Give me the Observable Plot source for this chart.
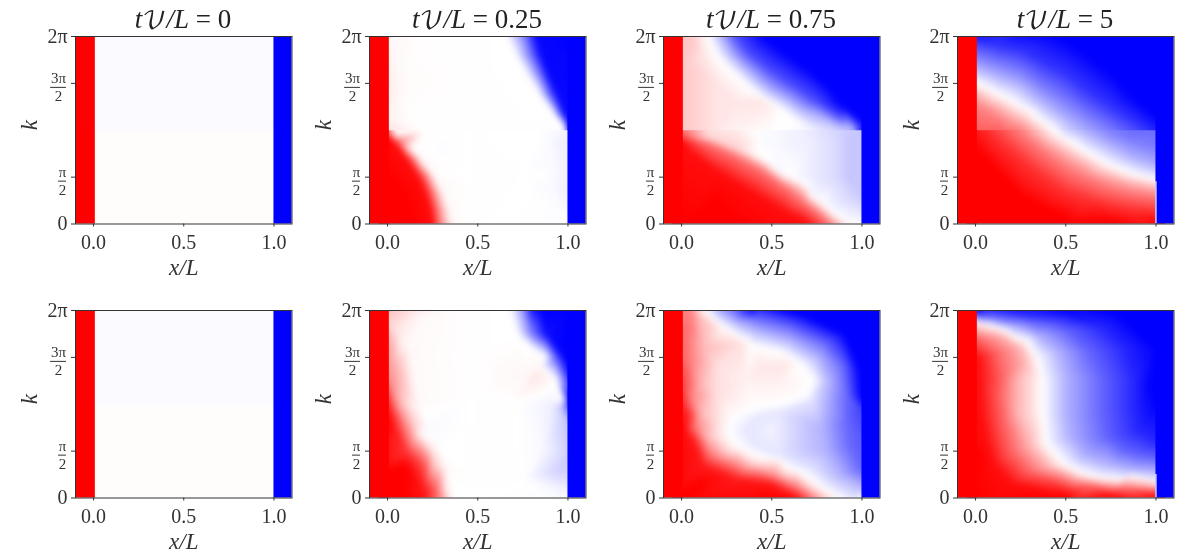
<!DOCTYPE html>
<html><head><meta charset="utf-8">
<script src="https://cdn.jsdelivr.net/npm/d3@7"></script>
<script src="https://cdn.jsdelivr.net/npm/@observablehq/plot@0.6"></script>
<style>
html,body{margin:0;padding:0;background:#fff;}
#fig{position:relative;width:1196px;height:557px;overflow:hidden;font-family:"Liberation Serif",serif;color:#222;filter:blur(.35px);}
#fig svg{position:absolute;overflow:visible;background:transparent;}
.ttl{position:absolute;width:216px;text-align:center;font-size:27px;line-height:30px;white-space:nowrap;}
</style></head><body><div id="fig"></div>
<script>
// Each field is a list of sampled iso-levels: [value, [x/L, k/pi, x/L, k/pi, ...]]
const t0Top = [
  [-0.015,[.01,2, .5,2, 1,2, .01,1.002, .5,1.002, 1,1.002]],
  [0.01,[.01,.998, .5,.998, 1,.998, .01,0, .5,0, 1,0]]
];
const t0Bottom = t0Top;
const t025Top = [
  [1,[.01,.9, .01,.5, .1,.3, .01,0, .15,0]],
  [.95,[.01,.94, .05,.84, .11,.68, .17,.5, .21,.33, .24,.15, .25,0]],
  [.5,[.01,.985, .07,.88, .14,.72, .21,.53, .25,.35, .28,.15, .29,0]],
  [.02,[.04,.96, .13,.79, .2,.65, .26,.5, .31,.32, .34,.15, .36,0]],
  [0,[.2,.99, .6,.99, .85,.99]],[-.02,[.95,.99]],
  [.12,[.01,1.01]],[.08,[.01,1.5]],[.03,[.01,2, .05,1.1]],[.04,[.05,1.5]],[.015,[.1,1.5]],[.005,[.13,1.1, .2,2, .4,1.5]],
  [.003,[.3,1.01, .7,1.01, .9,1.01]],
  [-.008,[.3,.8]],[.003,[.5,1, .5,.3, .5,1.6, .5,0, .5,2, .7,.5]],
  [0,[.66,2, .71,1.8, .77,1.6, .85,1.35, .93,1.15, .985,1.02]],
  [-.5,[.76,2, .79,1.8, .84,1.6, .89,1.38, .95,1.17, .995,1.01]],
  [-.97,[.82,2, .85,1.8, .89,1.6, .94,1.38, .98,1.17, 1,1.03]],
  [-1,[1,2, 1,1.005]],
  [-.06,[1,.995, 1,.5, .97,.85, .97,.35]],[-.02,[.92,.7, .92,.4]],[-.01,[1,0]],[0,[.85,.5]]
];
const t075Top = [
  [1,[.01,.85, .01,0, .3,0, .2,.25]],
  [.95,[.02,.8, .2,.55, .4,.32, .55,.15, .68,.03, .7,0]],
  [.55,[.01,.98, .15,.86, .3,.72, .45,.56, .58,.38, .68,.22, .76,.1, .82,0]],
  [.18,[.15,.91, .3,.8]],[.12,[.15,.99]],[.08,[.3,.99]],[-.02,[.5,.99, .45,.95]],[-.07,[.7,.99]],[-.16,[.85,.99]],
  [.22,[.01,1.01, .01,1.3, .01,1.7, .01,2, .06,1.95]],
  [.05,[.3,1.01]],[.01,[.5,1.01]],[-.08,[.75,1.01]],[-.2,[.88,1.01]],
  [0,[.15,2, .2,1.8, .27,1.65, .4,1.42, .55,1.23, .62,1.12]],
  [.03,[.4,.74]],[0,[.48,.66, .6,.5, .7,.4, .78,.22, .85,.1, .93,0]],
  [.1,[.12,1.8, .2,1.5, .3,1.3, .2,1.05, .45,1.3]],
  [-.3,[.22,2, .28,1.8, .36,1.65, .5,1.42, .66,1.23, .8,1.12, .95,1.03]],
  [-.7,[.3,2, .37,1.82, .48,1.65, .62,1.47, .75,1.3, .87,1.15, .98,1.03]],
  [-1,[.45,2, .55,1.85, .7,1.65, .82,1.45, .9,1.25, 1,1.01, 1,2]],
  [-.22,[1,.98, 1,.6, 1,.3, .93,.9, .93,.5]],
  [-.14,[.85,.9, .85,.5, .93,.25]],
  [-.07,[.72,.9, .72,.5, .85,.2]],
  [-.03,[.55,.82, .55,.55, .72,.3]],
  [-.02,[1,0]]
];
const t5Top = [
  [0,[.01,1.5, .12,1.39, .23,1.28, .37,1.09, .5,.91, .62,.76, .74,.63, .87,.53, 1,.47]],
  [-.3,[.01,1.66, .13,1.57, .25,1.48, .37,1.3, .5,1.12, .62,.97, .75,.83, .87,.71, 1,.62]],
  [-.5,[.01,1.78, .13,1.7, .25,1.62, .37,1.46, .5,1.3, .62,1.14, .75,.98, .87,.88, 1,.8]],
  [-.58,[1,.985, .87,.985]],[-.88,[1,1.015]],[-.68,[.87,1.01]],[-.52,[.75,1.01]],
  [-.18,[.5,1.01, .5,.99]],[.17,[.37,1.01, .37,.99]],[-.02,[.44,1.01, .44,.99]],[-.35,[.62,1.01, .62,.99]],
  [-.8,[.01,1.95, .13,1.9, .25,1.85, .37,1.73, .5,1.6, .62,1.42, .75,1.25, .87,1.1]],
  [-.92,[.01,2, .2,2]],
  [-1,[.45,2, .5,1.95, .62,1.8, .75,1.6, .87,1.35, 1,1.15, 1,2]],
  [.3,[.01,1.38, .13,1.24, .25,1.1, .37,.92, .5,.75, .62,.62, .75,.5, .87,.43, 1,.38]],
  [.5,[.01,1.25, .13,1.12, .25,1.01, .37,.8, .5,.62, .62,.5, .75,.4, .87,.34, 1,.3]],
  [.62,[.01,1.01, .13,1.01]],[.9,[.01,.985]],[.72,[.13,.985]],[.5,[.25,.99]],
  [.8,[.13,.9, .25,.7, .37,.52, .5,.35, .62,.27, .75,.2, .87,.16, 1,.13]],
  [1,[.01,.8, .13,.55, .25,.3, .37,.18, .5,.08, .75,.03, 1,.02, .01,0, .5,0, 1,0]]
];
const t025Bottom = [
  [1,[.01,.8, .01,.3, .01,0, .1,.35, .1,0]],
  [.9,[.02,.9]],[.85,[.01,1]],[.45,[.01,1.3]],[.35,[.02,1.6]],[.25,[.01,2]],
  [.35,[.06,1]],[.1,[.12,1, .05,1.8]],[.08,[.07,1.6]],[.02,[.12,1.6, .17,1, .2,1.95]],
  [.5,[.1,.75]],[.2,[.15,.75]],[-.02,[.23,.75]],[-.06,[.19,.71]],
  [.8,[.1,.5]],[.4,[.2,.5]],[.1,[.25,.5]],[0,[.3,.5]],
  [.7,[.2,.35]],[.2,[.26,.35]],[.02,[.32,.35]],
  [.9,[.2,.1]],[.6,[.27,.1]],[.1,[.32,.1]],[0,[.36,.1, .36,0]],[.95,[.2,0]],[.5,[.29,0]],
  [.003,[.5,.2, .5,.8, .5,1.5, .5,2, .5,1.1, .7,1, .7,.5, .75,.2]],
  [0,[.68,2, .72,1.75, .8,1.6, .88,1.5, .94,1.25, .98,1.03]],
  [-.4,[.75,2]],[-.9,[.8,2]],[-1,[.85,2, 1,2, 1,1.08, .98,1.5]],
  [-.5,[.8,1.75]],[-.95,[.88,1.75]],[-.6,[.93,1.5]],[-.4,[.97,1.25]],
  [.1,[.82,1.32]],[.03,[.78,1.32, .85,1.4, .72,1.3]],
  [-.9,[1,1.02]],[-.25,[.97,1, 1,.8]],[-.05,[.9,1]],
  [-.15,[.95,.7]],[-.2,[.97,.3, 1,.5]],[-.06,[.9,.5]],[-.02,[.85,.5]],[-.05,[.95,.1]],[-.02,[1,0]]
];
const t075Bottom = [
  [1,[.01,.7, .1,.15, .01,0, .5,0, .6,0]],
  [.9,[.03,.9, .07,.6, .12,.35, .3,.2, .5,.15, .6,.05, .65,0]],
  [.85,[.01,1]],[.75,[.01,1.2]],[.6,[.01,1.5]],[.6,[.01,1.75]],[.5,[.01,2]],
  [.5,[.05,2, .06,1.85, .05,1.5, .05,1.1, .08,.75, .15,.5, .3,.35, .5,.23, .63,.13, .73,0]],
  [.28,[.1,1.9, .12,1.6, .11,1.2, .11,.9, .14,.65]],
  [.12,[.1,2.0, .2,1.82, .33,1.65, .2,1.4, .2,1.1, .2,.8, .2,.65, .27,.5, .4,.38, .58,.26, .72,.12, .82,0]],
  [.1,[.5,1.38, .45,1.4, .58,1.42]],[.06,[.35,1.25, .55,1.25]],
  [0,[.14,2, .24,1.82, .39,1.63, .56,1.55, .66,1.43, .73,1.25, .69,1.09, .56,1, .39,.95, .28,.84, .26,.68, .32,.54, .47,.42, .64,.29, .77,.11, .88,.01]],
  [-.1,[.72,1.05, .55,.92, .42,.85, .37,.7, .42,.55, .55,.45, .72,.3, .85,.1, .95,0]],
  [-.05,[.5,.72]],
  [-.3,[.2,2, .3,1.88, .42,1.78, .6,1.68, .76,1.5, .82,1.25, .8,1, .78,.75, .8,.5, .88,.25, 1,.12]],
  [-.6,[.3,2, .42,1.92, .6,1.83, .8,1.65, .9,1.4, .92,1.1, .92,.8, .94,.55, 1,.3]],
  [-1,[.4,2, .7,1.93, .9,1.75, .98,1.4, 1,1.05, 1,2]],
  [-.75,[1,.95]],[-.65,[1,.6]],[-.02,[1,0]]
];
const t5Bottom = [
  [0,[.01,1.875, .08,1.84, .15,1.8, .28,1.68, .34,1.5, .37,1.25, .37,.9, .39,.58, .49,.36, .58,.27, .66,.22, .8,.19, 1,.17]],
  [.3,[.01,1.8, .15,1.72, .24,1.6, .27,1.45, .23,1.25, .23,.9, .3,.55, .4,.33, .58,.2, .8,.14, 1,.12]],
  [.6,[.01,1.7, .12,1.55, .15,1.3, .14,1.1, .16,.8, .2,.5, .3,.28, .5,.17, .65,.13, .8,.1, 1,.08]],
  [.95,[.01,1.5, .02,1.2, .03,.9, .06,.6, .1,.35, .2,.15, .5,.05, .75,.03, 1,.02]],
  [1,[.01,.5, .01,0, .5,0, 1,0]],
  [-.3,[.01,1.9, .2,1.83, .35,1.72, .46,1.55, .5,1.3, .5,.9, .52,.65, .6,.45, .75,.35, .87,.3, 1,.28]],
  [-.6,[.1,1.93, .3,1.88, .5,1.78, .63,1.55, .7,1.25, .7,.9, .72,.65, .82,.5, .9,.45, 1,.42]],
  [-.85,[.3,1.95, .5,1.92, .7,1.82, .82,1.6, .88,1.25, .88,.95, .9,.72, 1,.6]],
  [-1,[.01,2, .5,2, .8,1.95, 1,1.6, .97,1.2, 1,1, 1,2]]
];
const panels = [t0Top, t025Top, t075Top, t5Top, t0Bottom, t025Bottom, t075Bottom, t5Bottom];
const splitAtPi = [true,true,true,true,true,false,false,false];
const whiteEdgeTop = [0,0,0,.45,0,0,0,.25];
const titles = ["0","0.25","0.75","5"];
const strips = [{x1:-.1,x2:.01,v:1},{x1:1,x2:1.1,v:-1}];
const xTicks = [0,.5,1];
const kTicksMain = [{k:0,t:"0"},{k:2,t:"2π"}];
const kFractions = [{k:.5,num:"π",den:"2",dx:-13,x1:-.194,x2:-.15},{k:1.5,num:"3π",den:"2",dx:-17,x1:-.238,x2:-.15}];

const lefts = [75,369,663,957], tops = [36,310], PW = 216.5, PH = 187.5;
const fig = document.getElementById("fig");
const MT=6, ML=64, MB=50, MR=6;
const color = "#333";
// Repeat the samples on each border just outside the visible field, so the hull covers the raster.
function pad(data,{lowK,highK}){
  let out=data.slice();
  out=out.concat(out.filter(d=>d.x<=.012).map(d=>({...d,x:-.06})),out.filter(d=>d.x>=.999).map(d=>({...d,x:1.06})));
  out=out.concat(out.filter(d=>d.k>=highK.from).map(d=>({...d,k:highK.to})));
  out=out.concat(out.filter(d=>d.k<=lowK.from).map(d=>({...d,k:lowK.to})));
  return out;
}
panels.forEach((lines,i)=>{
  const col=i%4, row=i<4?0:1;
  const pts=[];
  for(const [v,c] of lines) for(let j=0;j<c.length;j+=2) pts.push({x:c[j],k:c[j+1],v});
  const field = (data,y1,y2)=>Plot.raster(data,{x:"x",y:"k",fill:"v",interpolate:"barycentric",x1:-.05,x2:1.05,y1,y2,blur:2.5,pixelSize:1,clip:"frame"});
  const rasters = splitAtPi[i]
    ? [field(pad(pts.filter(d=>d.k>=1),{highK:{from:1.99,to:2.1},lowK:{from:1.06,to:.85}}),.9,2.05),
       field(pad(pts.filter(d=>d.k<=1),{highK:{from:.94,to:1.15},lowK:{from:.01,to:-.1}}),-.05,1)]
    : [field(pad(pts,{highK:{from:1.99,to:2.1},lowK:{from:.01,to:-.1}}),-.05,2.05)];
  const fracMarks = kFractions.flatMap(f=>[
    Plot.text([f],{y:"k",text:"num",frameAnchor:"left",dx:f.dx,dy:-5,textAnchor:"middle",fontSize:15,fill:color}),
    Plot.ruleY([f],{y:"k",x1:"x1",x2:"x2",dy:4,stroke:color,strokeWidth:1,clip:false}),
    Plot.text([f],{y:"k",text:"den",frameAnchor:"left",dx:f.dx,dy:13,textAnchor:"middle",fontSize:15,fill:color})
  ]);
  const sliver = whiteEdgeTop[i]>0 ? [Plot.ruleX([1],{y1:0,y2:whiteEdgeTop[i],stroke:"#fff",strokeWidth:1.2})] : [];
  const svg = Plot.plot({
    width:PW+ML+MR,height:PH+MT+MB,marginLeft:ML,marginRight:MR,marginTop:MT,marginBottom:MB,
    x:{domain:[-.1,1.1]},y:{domain:[0,2]},
    color:{type:"linear",domain:[-1,0,1],range:["#0000ff","#ffffff","#ff0000"],clamp:true},
    style:{fontFamily:'"Liberation Serif",serif',background:"transparent"},
    marks:[
      ...rasters,
      Plot.rect(strips,{x1:"x1",x2:"x2",y1:0,y2:2,fill:"v"}),
      ...sliver,
      Plot.frame({stroke:"#333",strokeWidth:1}),
      Plot.axisX({ticks:xTicks,tickFormat:d3.format(".1f"),tickSize:3,tickPadding:8,fontSize:20,label:null,fill:color,stroke:color}),
      Plot.axisY({ticks:[0,.5,1.5,2],tickSize:4,label:null,stroke:color,fill:"none"}),
      Plot.text(kTicksMain,{y:"k",text:"t",frameAnchor:"left",dx:-8,textAnchor:"end",fontSize:20,fill:color}),
      ...fracMarks,
      Plot.text(["x/L"],{frameAnchor:"bottom",lineAnchor:"middle",dy:44,fontSize:23,fontStyle:"italic",fill:color,text:d=>d}),
      Plot.text(["k"],{frameAnchor:"left",dx:-46,rotate:-90,fontSize:23,fontStyle:"italic",fill:color,text:d=>d})
    ]
  });
  svg.style.left=(lefts[col]-ML)+"px";
  svg.style.top=(tops[row]-MT)+"px";
  fig.appendChild(svg);
  if(row===0){
    const d=document.createElement("div");d.className="ttl";
    d.style.left=lefts[col]+"px";d.style.top="4px";
    d.innerHTML='<i>t</i><span style="font-family:\'DejaVu Math TeX Gyre\',\'DejaVu Serif\',\'DejaVu Sans\',serif;font-size:25px">𝒱</span><i>/L</i> = '+titles[col];
    fig.appendChild(d);
  }
});
</script></body></html>
